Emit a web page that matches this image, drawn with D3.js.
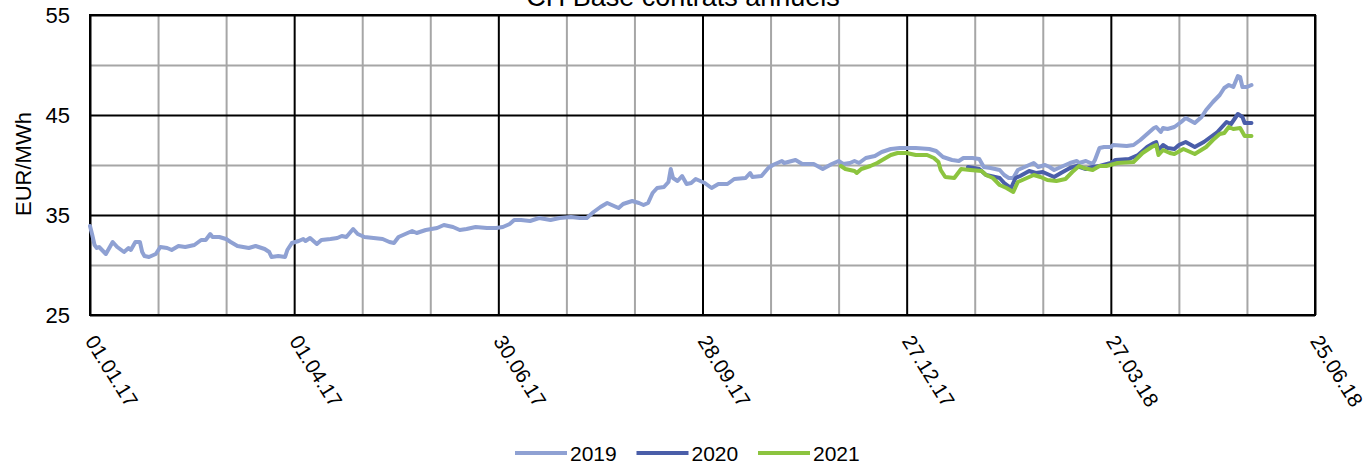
<!DOCTYPE html>
<html>
<head>
<meta charset="utf-8">
<script src="https://cdn.jsdelivr.net/npm/d3@7"></script>
<style>
  body { margin: 0; background: #fff; }
  svg text { font-family: "Liberation Sans", Arial, sans-serif; fill: #000; }
</style>
</head>
<body>
<div id="chart"></div>
<script>
// days are counted from 01.01.17
var days2019 = [0,1,2,3,4,7,10,12,15,17,18,20,22,23,24,26,29,31,34,36,39,42,46,49,51,53,54,57,60,62,65,70,73,77,79,80,83,86,87,89,92,94,95,97,100,102,106,109,111,113,116,118,121,125,129,132,134,136,139,142,144,148,153,156,160,163,166,170,175,179,182,185,187,190,194,198,203,207,212,216,219,222,225,228,233,235,239,242,244,246,248,250,253,255,256,257,259,261,263,265,267,271,274,277,281,284,289,291,292,296,299,301,305,306,311,314,319,323,327,330,332,335,337,339,342,346,349,353,357,360,364,370,373,376,380,383,385,389,392,394,397,401,403,405,407,409,411,414,416,418,421,423,425,428,432,435,436,439,442,443,445,447,450,451,457,460,463,466,469,470,472,473,475,478,481,483,487,490,492,495,498,500,502,504,506,507,508,510,512];
var values2019 = [33.9,33.0,32.0,31.7,31.8,31.1,32.3,31.8,31.3,31.7,31.5,32.3,32.3,31.3,30.9,30.8,31.1,31.8,31.7,31.5,31.9,31.8,32.0,32.5,32.5,33.1,32.8,32.8,32.6,32.3,31.9,31.7,31.9,31.6,31.3,30.8,30.9,30.8,31.5,32.2,32.4,32.6,32.4,32.7,32.1,32.5,32.6,32.7,32.9,32.8,33.6,33.1,32.8,32.7,32.6,32.3,32.2,32.8,33.1,33.4,33.2,33.5,33.7,34.0,33.8,33.5,33.6,33.8,33.7,33.7,33.8,34.1,34.5,34.5,34.4,34.7,34.5,34.7,34.8,34.7,34.7,35.3,35.8,36.2,35.7,36.1,36.4,36.2,36.0,36.2,37.2,37.7,37.8,38.3,39.6,38.7,38.4,38.9,38.1,38.2,38.6,38.2,37.7,38.1,38.1,38.6,38.7,39.2,38.8,38.9,39.7,40.0,40.4,40.2,40.5,40.1,40.1,39.6,40.1,40.4,40.1,40.2,40.4,40.2,40.7,40.9,41.3,41.6,41.7,41.7,41.7,41.6,41.4,40.8,40.5,40.4,40.7,40.7,40.6,39.8,39.7,39.5,39.0,38.7,38.7,39.5,39.7,40.0,40.2,39.8,40.0,39.8,39.5,39.8,40.2,40.4,40.2,40.4,40.1,40.5,41.7,41.8,41.8,42.0,41.9,42.0,42.5,43.1,43.7,43.8,43.3,43.7,43.6,43.8,44.3,44.7,44.2,44.8,45.5,46.3,47.0,47.7,48.0,47.8,48.9,48.8,47.8,47.8,48.0];

var days2020 = [387,392,395,399,401,403,406,408,410,414,417,420,423,425,428,432,435,439,442,445,450,452,458,462,466,469,470,471,473,475,478,480,483,487,491,494,497,499,501,503,506,508,509,512];
var values2020 = [39.8,39.6,39.0,38.8,38.7,38.2,37.7,38.7,38.9,39.4,39.2,39.3,39.0,38.8,39.2,39.7,39.9,39.6,39.8,39.9,40.2,40.5,40.6,41.0,41.8,42.2,42.3,41.5,42.0,41.7,41.6,42.0,42.3,41.8,42.3,42.8,43.3,43.8,44.3,44.1,45.1,44.8,44.2,44.2];

var days2021 = [331,333,337,338,340,344,347,350,353,356,360,364,369,372,374,375,377,381,383,384,388,393,395,398,401,404,407,409,411,416,419,422,426,430,433,436,438,442,445,448,453,460,464,468,470,471,473,476,478,482,487,492,495,498,500,502,504,507,509,512];
var values2021 = [39.9,39.6,39.4,39.2,39.6,39.9,40.2,40.6,41.0,41.2,41.2,41.0,41.0,40.7,40.3,39.5,38.8,38.7,39.3,39.6,39.5,39.4,39.0,38.7,38.0,37.7,37.3,38.3,38.5,39.0,38.8,38.5,38.4,38.6,39.3,39.9,39.7,39.5,39.9,39.9,40.2,40.3,41.2,41.8,42.0,41.0,41.5,41.2,41.1,41.6,41.1,41.8,42.5,43.1,43.2,43.8,43.6,43.7,42.9,42.9];

var seriesNames = ["2019", "2020", "2021"];
var seriesColors = ["#8fa1d3", "#4a5ea9", "#8cc43f"];
var yTicks = [25, 35, 45, 55];
var chartTitle = "CH Base contrats annuels";
var yTitle = "EUR/MWh";

var W = 1366, H = 464;
var plotL = 90, plotR = 1315, plotT = 15, plotB = 315;
var start = new Date(Date.UTC(2017, 0, 1));
var end = d3.utcDay.offset(start, 540);

var x = d3.scaleUtc().domain([start, end]).range([plotL, plotR]);
var y = d3.scaleLinear().domain([25, 55]).range([plotB, plotT]);

var svg = d3.select("#chart").append("svg")
  .attr("width", W)
  .attr("height", H);

// grid: minor every 30 days / 5 units grey, major every 90 days / 10 units black
var minorDates = d3.range(0, 541, 30).filter(function(d) { return d % 90 != 0; })
  .map(function(d) { return d3.utcDay.offset(start, d); });
var majorDates = d3.range(0, 541, 90).map(function(d) { return d3.utcDay.offset(start, d); });

svg.append("g")
  .attr("transform", "translate(0," + plotB + ")")
  .call(d3.axisBottom(x).tickValues(minorDates).tickSize(-(plotB - plotT)).tickFormat(""))
  .call(function(g) { g.select(".domain").remove(); g.selectAll("line").attr("stroke", "#a6a6a6").attr("stroke-width", 2); });

svg.append("g")
  .attr("transform", "translate(" + plotL + ",0)")
  .call(d3.axisLeft(y).tickValues([30, 40, 50]).tickSize(-(plotR - plotL)).tickFormat(""))
  .call(function(g) { g.select(".domain").remove(); g.selectAll("line").attr("stroke", "#a6a6a6").attr("stroke-width", 2); });

svg.append("g")
  .attr("transform", "translate(0," + plotB + ")")
  .call(d3.axisBottom(x).tickValues(majorDates).tickSize(-(plotB - plotT)).tickFormat(""))
  .call(function(g) { g.select(".domain").remove(); g.selectAll("line").attr("stroke", "#000").attr("stroke-width", 2); });

svg.append("g")
  .attr("transform", "translate(" + plotL + ",0)")
  .call(d3.axisLeft(y).tickValues(yTicks).tickSize(-(plotR - plotL)).tickFormat(""))
  .call(function(g) { g.select(".domain").remove(); g.selectAll("line").attr("stroke", "#000").attr("stroke-width", 2); });

svg.append("rect")
  .attr("x", plotL).attr("y", plotT)
  .attr("width", plotR - plotL).attr("height", plotB - plotT)
  .attr("fill", "none").attr("stroke", "#000").attr("stroke-width", 2);

// tick labels
var yAxis = svg.append("g")
  .attr("transform", "translate(70,0)")
  .call(d3.axisLeft(y).tickValues(yTicks).tickSize(0).tickPadding(0));
yAxis.select(".domain").remove();
yAxis.selectAll("text").attr("font-size", 22).attr("dy", "0.36em");

var xAxis = svg.append("g")
  .attr("transform", "translate(0," + plotB + ")")
  .call(d3.axisBottom(x).tickValues(majorDates).tickSize(0).tickFormat(d3.utcFormat("%d.%m.%y")));
xAxis.select(".domain").remove();
xAxis.selectAll("text")
  .attr("font-size", 20.5)
  .attr("text-anchor", "start")
  .attr("x", 0).attr("y", 0).attr("dy", 0)
  .attr("transform", "translate(-6,26) rotate(58)");

svg.append("text")
  .attr("x", 683).attr("y", 6)
  .attr("text-anchor", "middle")
  .attr("font-size", 27)
  .text(chartTitle);

svg.append("text")
  .attr("transform", "translate(31,164) rotate(-90)")
  .attr("text-anchor", "middle")
  .attr("font-size", 22)
  .text(yTitle);

// lines
var line = d3.line()
  .x(function(d) { return x(d3.utcDay.offset(start, d[0])); })
  .y(function(d) { return y(d[1]); });

var allDays = [days2019, days2020, days2021];
var allValues = [values2019, values2020, values2021];

seriesNames.forEach(function(name, i) {
  var pts = d3.zip(allDays[i], allValues[i]);
  svg.append("path")
    .datum(pts)
    .attr("fill", "none")
    .attr("stroke", seriesColors[i])
    .attr("stroke-width", 4)
    .attr("stroke-linejoin", "round")
    .attr("stroke-linecap", "round")
    .attr("d", line);
});

// legend
var legend = svg.append("g").attr("transform", "translate(515,453)");
seriesNames.forEach(function(name, i) {
  var g = legend.append("g").attr("transform", "translate(" + (i * 121.5) + ",0)");
  g.append("line")
    .attr("x1", 0).attr("x2", 52)
    .attr("stroke", seriesColors[i]).attr("stroke-width", 4);
  g.append("text")
    .attr("x", 55).attr("dy", "0.36em")
    .attr("font-size", 21)
    .text(name);
});
</script>
</body>
</html>
